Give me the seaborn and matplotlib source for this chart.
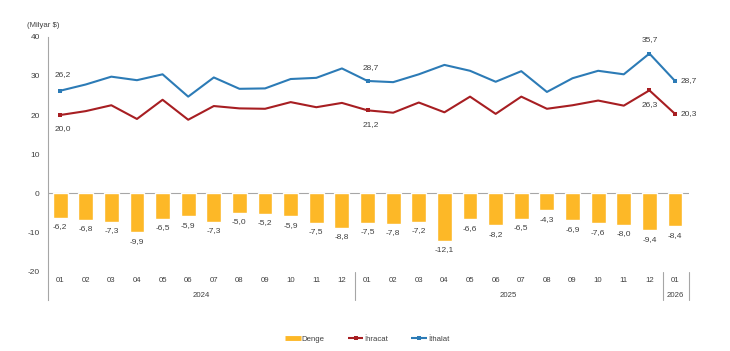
import numpy as np
import pandas as pd
import matplotlib
matplotlib.use("Agg")
import matplotlib.pyplot as plt
from matplotlib.lines import Line2D
import seaborn as sns

# data (Milyar $)
months = ["01", "02", "03", "04", "05", "06", "07", "08", "09", "10", "11", "12",
          "01", "02", "03", "04", "05", "06", "07", "08", "09", "10", "11", "12",
          "01"]
years = ["2024"] * 12 + ["2025"] * 12 + ["2026"]
denge = [-6.2, -6.8, -7.3, -9.9, -6.5, -5.9, -7.3, -5.0, -5.2, -5.9, -7.5, -8.8,
         -7.5, -7.8, -7.2, -12.1, -6.6, -8.2, -6.5, -4.3, -6.9, -7.6, -8.0, -9.4,
         -8.4]
ihracat = [20.0, 21.0, 22.5, 19.0, 23.9, 18.8, 22.3, 21.7, 21.6, 23.3, 22.0, 23.1,
           21.2, 20.6, 23.2, 20.7, 24.7, 20.3, 24.7, 21.6, 22.5, 23.7, 22.4, 26.3,
           20.3]
ithalat = [26.2, 27.8, 29.8, 28.9, 30.4, 24.7, 29.6, 26.7, 26.8, 29.2, 29.5, 31.9,
           28.7, 28.4, 30.4, 32.8, 31.3, 28.5, 31.2, 25.9, 29.4, 31.3, 30.4, 35.7,
           28.7]

BAR = "#FDB827"
RED = "#A71E22"
BLUE = "#2C7BB6"
GREY = "#A6A6A6"
TXT = "#404040"
FS = 5.6

df = pd.DataFrame({"idx": np.arange(len(months)), "Denge": denge,
                   "Ihracat": ihracat, "Ithalat": ithalat})

sns.set_style("white")
plt.rcParams["font.family"] = ["Liberation Sans", "DejaVu Sans"]
plt.rcParams["font.size"] = FS

fig = plt.figure(figsize=(7.3, 3.51), dpi=100)
ax = fig.add_axes([0.0658, 0.145, 0.944 - 0.0658, 0.8954 - 0.145])

sns.barplot(data=df, x="idx", y="Denge", color=BAR, width=0.58,
            native_scale=True, saturation=1, ax=ax, zorder=2)
sns.lineplot(data=df, x="idx", y="Ihracat", color=RED, lw=1.5, ax=ax,
             marker="s", markersize=3.5, markeredgewidth=0,
             markevery=[0, 12, 23, 24], zorder=3)
sns.lineplot(data=df, x="idx", y="Ithalat", color=BLUE, lw=1.5, ax=ax,
             marker="s", markersize=3.5, markeredgewidth=0,
             markevery=[0, 12, 23, 24], zorder=3)

ybot = -27.25
ax.set_xlim(-0.47, 24.55)
ax.set_ylim(ybot, 40)
ax.set_yticks([-20, -10, 0, 10, 20, 30, 40])
ax.set_yticklabels(["-20", "-10", "0", "10", "20", "30", "40"], color=TXT)
ax.tick_params(axis="y", length=3, width=0.8, color=GREY, pad=3, labelsize=FS + 0.4)
ax.set_xticks([])
ax.set_xlabel("")
ax.set_ylabel("")
for s in ["top", "right", "bottom"]:
    ax.spines[s].set_visible(False)
ax.spines["left"].set_color(GREY)
ax.spines["left"].set_linewidth(0.8)
ax.axhline(0, color=GREY, lw=0.8, zorder=1)

# category labels
for i, m in enumerate(months):
    ax.text(i, -22.2, m, ha="center", va="center", color=TXT, fontsize=FS)
for yr, (a, b) in {"2024": (0, 11), "2025": (12, 23), "2026": (24, 24)}.items():
    ax.text((a + b) / 2, -26.2, yr, ha="center", va="center", color=TXT, fontsize=FS)
for xs in [11.52, 23.53, 24.53]:
    ax.plot([xs, xs], [-20, ybot], color=GREY, lw=0.8, clip_on=False)

# bar labels
for i, v in enumerate(denge):
    ax.annotate(f"{v:.1f}".replace(".", ","), (i, v), xytext=(0, -6.5),
                textcoords="offset points", ha="center", va="center",
                color=TXT, fontsize=FS + 0.4)

# line labels
def lab(i, v, dx, dy, ha="center"):
    ax.annotate(f"{v:.1f}".replace(".", ","), (i, v), xytext=(dx, dy),
                textcoords="offset points", ha=ha, va="center",
                color=TXT, fontsize=FS + 0.4)

lab(0, ithalat[0], 2, 12)
lab(0, ihracat[0], 2, -10)
lab(12, ithalat[12], 2, 10)
lab(12, ihracat[12], 2, -10)
lab(23, ithalat[23], 0, 10)
lab(23, ihracat[23], 0, -10)
lab(24, ithalat[24], 4, 0, ha="left")
lab(24, ihracat[24], 4, 0, ha="left")

fig.text(0.037, 0.928, "(Milyar $)", color=TXT, fontsize=FS, va="center")

handles = [Line2D([], [], color=BAR, lw=3.5, solid_capstyle="butt"),
           Line2D([], [], color=RED, lw=1.5, marker="s", markersize=3.5,
                  markeredgewidth=0, solid_capstyle="butt"),
           Line2D([], [], color=BLUE, lw=1.5, marker="s", markersize=3.5,
                  markeredgewidth=0, solid_capstyle="butt")]
fig.legend(handles, ["Denge", "İhracat", "İthalat"], loc="center",
           bbox_to_anchor=(0.503, 0.034), ncol=3, frameon=False, fontsize=FS,
           handlelength=2.0, handletextpad=0.1, columnspacing=3.0,
           labelcolor=TXT)

fig.savefig("out.png", dpi=100)
